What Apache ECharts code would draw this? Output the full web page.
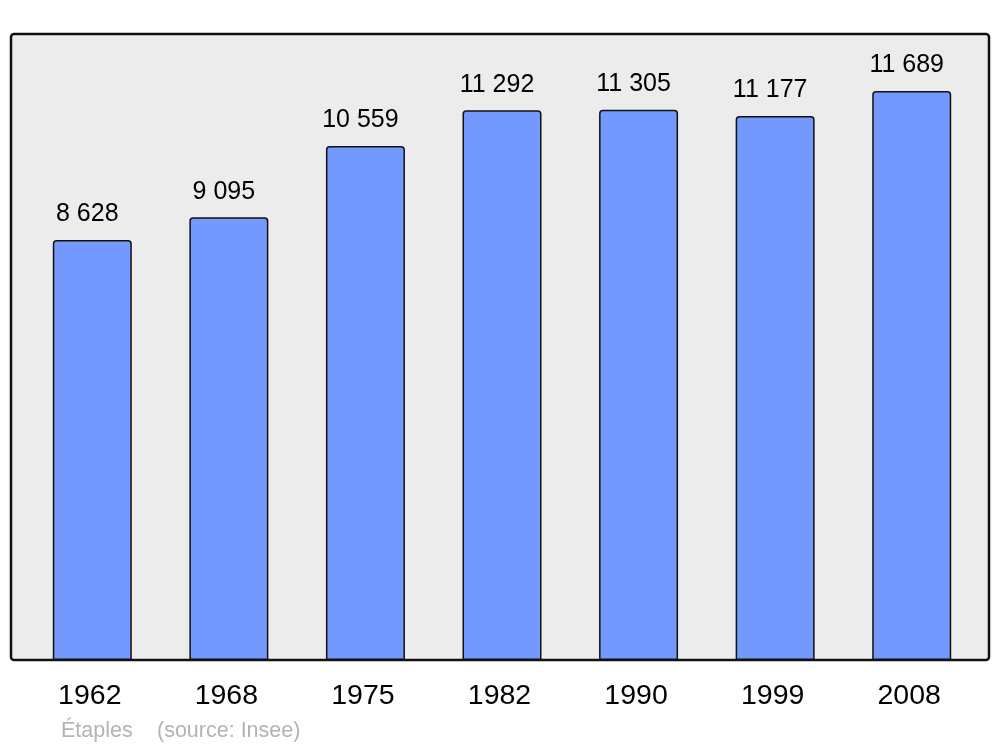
<!DOCTYPE html>
<html>
<head>
<meta charset="utf-8">
<script src="https://cdn.jsdelivr.net/npm/echarts@6/dist/echarts.min.js"></script>
<style>
  html, body { margin: 0; padding: 0; background: #fff; }
  #chart { width: 1000px; height: 747px; }
</style>
</head>
<body>
<div id="chart"></div>
<script>
const years = ['1962', '1968', '1975', '1982', '1990', '1999', '2008']
const population = [8628, 9095, 10559, 11292, 11305, 11177, 11689]

// space between thousands, like the reference
const fmt = v => String(v).replace(/\B(?=(\d{3})+(?!\d))/g, ' ')

const chart = echarts.init(document.getElementById('chart'))
chart.setOption({
  animation: false,
  textStyle: { fontFamily: 'Liberation Sans, Arial, sans-serif' },
  graphic: [
    {
      type: 'rect',
      z: -10,
      shape: { x: 11, y: 34, width: 978, height: 626, r: 3 },
      style: { fill: '#ececec', stroke: '#111', lineWidth: 2.5 }
    },
    {
      type: 'text',
      left: 61,
      top: 720,
      style: { text: 'Étaples', fill: '#b3b3b3', font: '21.5px Liberation Sans, Arial, sans-serif' }
    },
    {
      type: 'text',
      left: 157,
      top: 720,
      style: { text: '(source: Insee)', fill: '#b3b3b3', font: '21.5px Liberation Sans, Arial, sans-serif' }
    }
  ],
  grid: { left: 24, right: 20, top: 34, bottom: 87, containLabel: false },
  xAxis: {
    type: 'category',
    data: years,
    axisLine: { show: false },
    axisTick: { show: false },
    axisLabel: { color: '#000', fontSize: 28.5, margin: 22, padding: [0, 5, 0, 0] }
  },
  yAxis: {
    type: 'value',
    min: 0,
    max: 12860,
    show: false
  },
  series: [
    {
      type: 'bar',
      data: population,
      barWidth: 79,
      itemStyle: {
        color: '#7399ff',
        borderColor: '#111',
        borderWidth: 1.5,
        borderRadius: [3, 3, 0, 0]
      },
      label: {
        show: true,
        position: 'top',
        distance: 13,
        offset: [-5, 0],
        color: '#000',
        fontSize: 25,
        formatter: p => fmt(p.value)
      }
    }
  ]
})
</script>
</body>
</html>
